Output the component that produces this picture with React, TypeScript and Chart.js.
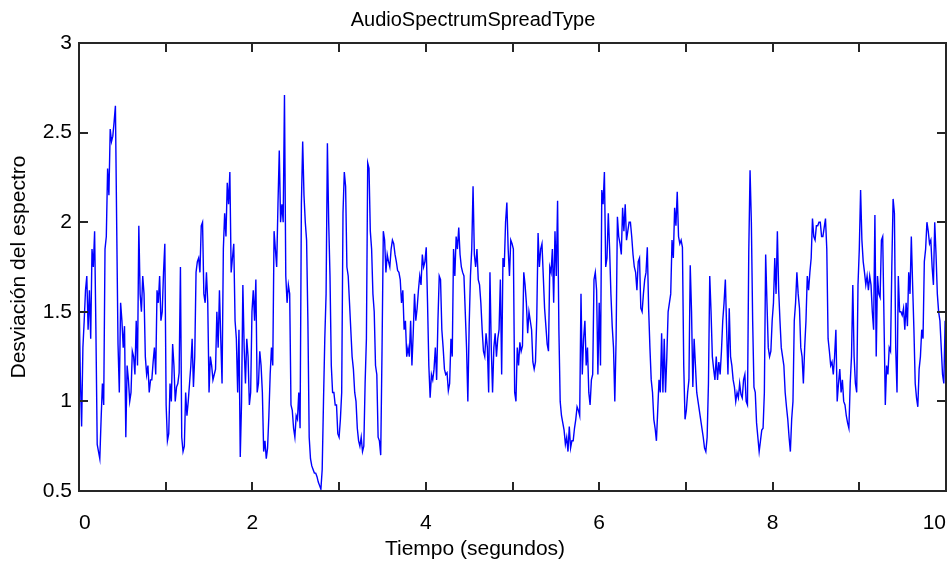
import React, { useEffect, useRef } from "react";
import { Chart, registerables } from "chart.js";

Chart.register(...registerables);

const TITLE = "AudioSpectrumSpreadType";
const X_LABEL = "Tiempo (segundos)";
const Y_LABEL = "Desviación del espectro";

// frame period of the descriptor (seconds)
const SAMPLE_PERIOD = 0.015;

// AudioSpectrumSpread values, in consecutive stretches of time
const spreadPart1: number[] = [
  1.62, 1.15, 0.86, 1.30, 1.45, 1.62, 1.70, 1.40, 1.62, 1.35,
  1.85, 1.75, 1.95, 1.40, 0.76, 0.72, 0.68, 0.90, 1.10, 0.98,
  1.85, 1.92, 2.30, 2.15, 2.52, 2.45, 2.48, 2.56, 2.65, 1.97,
  1.32, 1.05, 1.55, 1.45, 1.30, 1.42, 0.80, 1.20, 1.12, 1.00,
  1.05, 1.28, 1.25, 1.15, 1.45, 1.20, 1.98, 1.60, 1.50, 1.70,
  1.60, 1.25, 1.15, 1.20, 1.05, 1.12, 1.12, 1.22, 1.30, 1.15,
  1.62, 1.55, 1.70, 1.45, 1.50, 1.72, 1.88, 0.98, 0.78, 0.82,
  1.10, 1.00, 1.32, 1.20, 1.00, 1.08, 1.10, 1.16, 1.75, 0.80,
  0.72, 0.75, 1.05, 0.92, 1.00, 1.10,
];
const spreadPart2: number[] = [
  1.20, 1.35, 1.08, 1.25, 1.72, 1.78, 1.80, 1.72, 1.98, 2.00,
  1.60, 1.55, 1.72, 1.55, 1.05, 1.25, 1.20, 1.12, 1.15, 1.18,
  1.50, 1.30, 1.62, 1.35, 1.10, 1.85, 2.05, 1.92, 2.22, 2.10,
  2.28, 1.72, 1.80, 1.88, 1.45, 1.35, 1.05, 1.40, 0.69, 1.00,
  1.65, 1.30, 1.10, 1.35, 1.25, 0.98, 1.05, 1.50, 1.62, 1.45,
  1.68, 1.05, 1.10, 1.28, 1.20, 1.05, 0.72, 0.78, 0.68, 0.74,
  0.92, 1.15, 1.30, 1.20, 1.95, 1.85, 1.75, 2.10, 2.40, 2.00,
  2.10, 2.00, 2.71, 1.70, 1.55, 1.65, 1.60, 0.98, 0.95, 0.85,
  0.80, 0.92, 0.90, 1.05,
];
const spreadPart3: number[] = [
  0.85, 2.10, 2.45, 2.15, 2.00, 1.90, 1.45, 0.80, 0.68, 0.64,
  0.62, 0.60, 0.60, 0.58, 0.55, 0.53, 0.51, 0.62, 1.00, 1.35,
  1.60, 2.44, 2.00, 1.70, 1.20, 1.05, 1.05, 0.98, 0.98, 0.82,
  0.80, 0.90, 1.05, 2.05, 2.28, 2.20, 1.75, 1.70, 1.55, 1.40,
  1.25, 1.18, 1.05, 1.00, 0.85, 0.78, 0.75, 0.80, 0.72, 0.75,
  1.10, 1.35, 2.33, 2.30, 1.95, 1.85, 1.60, 1.50, 1.20, 1.15,
  0.80, 0.78, 0.70, 1.28, 1.95, 1.90, 1.72, 1.82, 1.78, 1.75,
  1.85, 1.90, 1.88, 1.82, 1.78, 1.73, 1.72, 1.68, 1.55, 1.62,
  1.40, 1.45, 1.25, 1.30,
];
const spreadPart4: number[] = [
  1.25, 1.45, 1.20, 1.38, 1.60, 1.45, 1.52, 1.62, 1.70, 1.65,
  1.82, 1.75, 1.78, 1.86, 1.55, 1.20, 1.02, 1.15, 1.12, 1.18,
  1.30, 1.12, 1.45, 1.70, 1.68, 1.40, 1.30, 1.18, 1.15, 1.16,
  1.06, 1.10, 1.35, 1.25, 1.85, 1.70, 1.92, 1.85, 1.97, 1.82,
  1.75, 1.72, 1.70, 1.50, 1.30, 1.00, 1.42, 1.70, 1.85, 2.20,
  1.82, 1.75, 1.85, 1.68, 1.65, 1.55, 1.40, 1.28, 1.25, 1.38,
  1.30, 1.05, 1.72, 1.30, 1.05, 1.30, 1.38, 1.25, 1.35, 1.40,
  1.68, 1.15, 1.80, 1.75, 2.00, 2.11, 1.85, 1.70, 1.90, 1.88,
  1.85, 1.05,
];
const spreadPart5: number[] = [
  1.00, 1.30, 1.20, 1.33, 1.28, 1.31, 1.72, 1.65, 1.55, 1.38,
  1.50, 1.45, 1.40, 1.22, 1.18, 1.22, 1.47, 1.94, 1.75, 1.85,
  1.88, 1.70, 1.52, 1.42, 1.32, 1.28, 1.75, 1.72, 1.85, 1.55,
  1.95, 1.70, 2.12, 1.40, 1.00, 0.92, 0.88, 0.84, 0.76, 0.80,
  0.72, 0.86, 0.74, 0.78, 0.78, 0.85, 0.90, 0.97, 0.95, 0.92,
  1.60, 1.15, 1.35, 1.45, 1.20, 1.30, 1.05, 0.98, 1.12, 1.15,
  1.68, 1.72, 1.62, 1.15, 1.55, 1.20, 2.18, 2.10, 2.28, 1.75,
  1.80, 2.05, 1.85, 1.60, 1.42, 1.30, 1.00, 1.35, 2.03, 1.92,
  1.88, 1.82, 2.08, 1.95,
];
const spreadPart6: number[] = [
  2.10, 1.90, 1.95, 2.00, 2.00, 1.92, 1.82, 1.75, 1.72, 1.62,
  1.78, 1.80, 1.52, 1.50, 1.60, 1.68, 1.72, 1.86, 1.52, 1.30,
  1.12, 1.05, 0.90, 0.85, 0.78, 0.95, 1.12, 1.05, 1.38, 1.05,
  1.35, 1.05, 1.25, 1.50, 1.55, 1.60, 1.90, 1.80, 2.08, 1.98,
  2.17, 1.92, 1.88, 1.90, 1.86, 1.20, 0.90, 0.95, 1.05, 1.12,
  1.76, 1.50, 1.08, 1.35, 1.20, 1.05, 1.00, 0.95, 0.90, 0.85,
  0.80, 0.74, 0.72, 0.80, 1.10, 1.70, 1.50, 1.25, 1.18, 1.12,
  1.25, 1.12, 1.22, 1.15, 1.28, 1.45, 1.55, 1.68, 1.40, 1.15,
  1.52, 1.25,
];
const spreadPart7: number[] = [
  1.20, 1.12, 1.08, 1.00, 1.05, 1.02, 1.10, 1.04, 1.02, 1.12,
  1.15, 1.00, 0.98, 1.83, 2.29, 2.00, 1.45, 1.08, 1.05, 0.88,
  0.80, 0.72, 0.78, 0.84, 0.85, 1.05, 1.82, 1.55, 1.30, 1.25,
  1.28, 1.45, 1.55, 1.80, 1.60, 1.95, 1.62, 1.45, 1.30, 1.25,
  1.20, 1.05, 0.97, 0.90, 0.80, 0.72, 0.90, 1.00, 1.45, 1.55,
  1.72, 1.60, 1.52, 1.30, 1.25, 1.10, 1.30, 1.45, 1.70, 1.62,
  1.72, 1.80, 2.02, 1.92, 1.90, 1.98, 1.98, 2.00, 2.00, 1.92,
  1.92, 1.97, 2.02, 1.85, 1.35, 1.28, 1.20, 1.22, 1.15, 1.25,
  1.40, 1.00,
];
const spreadPart8: number[] = [
  1.10, 1.18, 1.05, 1.12, 1.00, 0.98, 0.92, 0.88, 0.85, 1.10,
  1.25, 1.65, 1.25, 1.10, 1.05, 1.65, 1.85, 2.18, 1.90, 1.78,
  1.72, 1.65, 1.70, 1.62, 1.70, 1.65, 1.50, 1.40, 2.04, 1.25,
  1.70, 1.60, 1.58, 1.90, 1.92, 1.45, 0.98, 1.20, 1.15, 1.30,
  1.28, 1.75, 2.13, 2.05, 1.30, 1.05, 1.70, 1.50, 1.50, 1.48,
  1.52, 1.40, 1.55, 1.42, 1.72, 1.60, 1.92, 1.65, 1.40, 1.10,
  1.02, 0.97, 1.18, 1.25, 1.40, 1.35, 1.78, 1.85, 2.00, 1.95,
  1.88, 1.90, 1.75, 1.65, 2.00, 1.82, 1.60, 1.50, 1.45, 1.30,
  1.15, 1.10, 1.45,
];

const xTickValues = [0, 1, 2, 3, 4, 5, 6, 7, 8, 9, 10];
const xLabeledTicks = [0, 2, 4, 6, 8, 10];
const yTickValues = [0.5, 1, 1.5, 2, 2.5, 3];

const FONT = "'Liberation Sans', Arial, Helvetica, sans-serif";
const AXIS_COLOR = "#262626";

const frameAndTicks = {
  id: "frameAndTicks",
  afterDraw(chart: any) {
    const { ctx, chartArea: a, scales } = chart;
    ctx.save();
    ctx.strokeStyle = AXIS_COLOR;
    ctx.lineWidth = 2;
    ctx.strokeRect(a.left, a.top, a.right - a.left, a.bottom - a.top);
    const seg = (x1: number, y1: number, x2: number, y2: number) => {
      ctx.beginPath();
      ctx.moveTo(x1, y1);
      ctx.lineTo(x2, y2);
      ctx.stroke();
    };
    const len = 9;
    scales.x.ticks.forEach((t: any) => {
      const px = Math.round(scales.x.getPixelForValue(t.value));
      if (px <= a.left + 1 || px >= a.right - 1) return;
      seg(px, a.bottom, px, a.bottom - len);
      seg(px, a.top, px, a.top + len);
    });
    scales.y.ticks.forEach((t: any) => {
      const py = Math.round(scales.y.getPixelForValue(t.value));
      if (py <= a.top + 1 || py >= a.bottom - 1) return;
      seg(a.left, py, a.left + len, py);
      seg(a.right, py, a.right - len, py);
    });
    ctx.fillStyle = "#000";
    ctx.font = `21px ${FONT}`;
    ctx.textAlign = "center";
    ctx.textBaseline = "middle";
    ctx.fillText(X_LABEL, 475, 549);
    ctx.restore();
  },
};

export default function App() {
  const canvasRef = useRef<HTMLCanvasElement | null>(null);

  useEffect(() => {
    const canvas = canvasRef.current;
    if (!canvas) return;
    const spreadValues = [
      ...spreadPart1, ...spreadPart2, ...spreadPart3, ...spreadPart4,
      ...spreadPart5, ...spreadPart6, ...spreadPart7, ...spreadPart8,
    ];
    const points = spreadValues.map((v, i) => ({ x: i * SAMPLE_PERIOD, y: v }));
    const chart = new Chart(canvas, {
      type: "line",
      data: {
        datasets: [
          {
            label: TITLE,
            data: points,
            borderColor: "#0000ff",
            borderWidth: 1.4,
            pointRadius: 0,
            tension: 0,
            fill: false,
          },
        ],
      },
      options: {
        animation: false,
        responsive: false,
        devicePixelRatio: 1,
        layout: { padding: { left: 0, right: 6, top: 0, bottom: 0 } },
        plugins: {
          legend: { display: false },
          tooltip: { enabled: false },
          title: {
            display: true,
            text: TITLE,
            color: "#000",
            font: { family: FONT, size: 20, weight: "normal" },
            padding: { top: 8, bottom: 11 },
          },
        },
        scales: {
          x: {
            type: "linear",
            min: 0,
            max: 10,
            afterBuildTicks: (scale: any) => {
              scale.ticks = xTickValues.map((v) => ({ value: v }));
            },
            afterFit: (scale: any) => {
              scale.height = 75;
              scale.paddingLeft = 0;
              scale.paddingRight = 0;
            },
            grid: { display: false, drawTicks: false },
            border: { display: false },
            ticks: {
              autoSkip: false,
              maxRotation: 0,
              minRotation: 0,
              align: "inner",
              padding: 20,
              color: "#000",
              font: { family: FONT, size: 21 },
              callback: (v: any) => (xLabeledTicks.includes(Number(v)) ? String(v) : ""),
            },
            title: { display: false },
          },
          y: {
            type: "linear",
            min: 0.5,
            max: 3,
            afterBuildTicks: (scale: any) => {
              scale.ticks = yTickValues.map((v) => ({ value: v }));
            },
            afterFit: (scale: any) => {
              scale.width = 79;
            },
            grid: { display: false, drawTicks: false },
            border: { display: false },
            ticks: {
              padding: 7,
              color: "#000",
              font: { family: FONT, size: 21 },
              callback: (v: any) => String(v),
            },
            title: {
              display: true,
              text: Y_LABEL,
              color: "#000",
              font: { family: FONT, size: 21 },
              padding: { top: 7, bottom: 0 },
            },
          },
        },
      },
      plugins: [frameAndTicks],
    } as any);
    return () => chart.destroy();
  }, []);

  return (
    <div style={{ position: "absolute", left: 0, top: 0, width: 952, height: 566, background: "#fff" }}>
      <canvas ref={canvasRef} width={952} height={566} style={{ display: "block" }} />
    </div>
  );
}
